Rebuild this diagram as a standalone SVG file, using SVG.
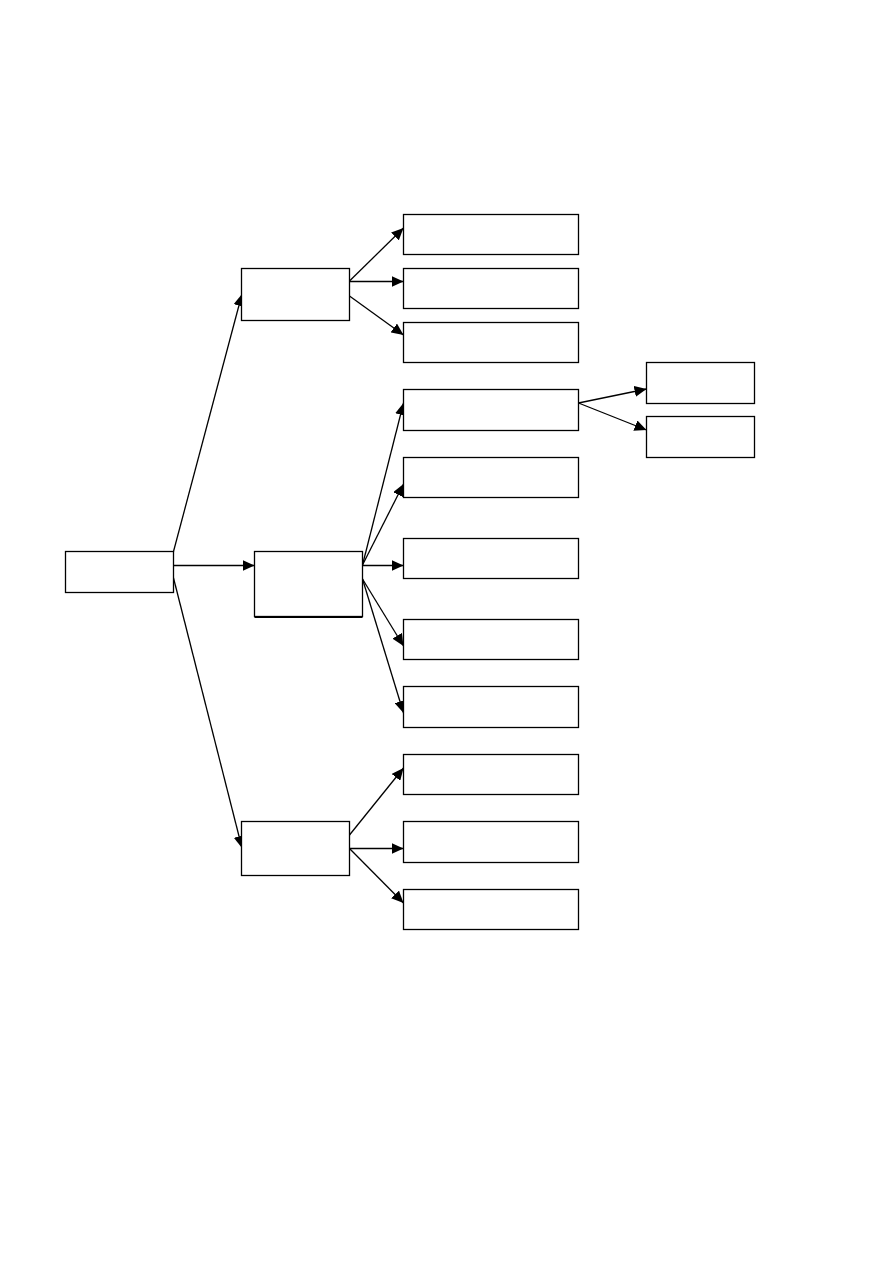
<svg xmlns="http://www.w3.org/2000/svg" width="893" height="1263" viewBox="0 0 893 1263">
<style>
.box{fill:#fff;stroke:#000;stroke-width:1.3}
.edge{fill:none;stroke:#000;stroke-width:1.3}
</style>
<defs>
<marker id="ah" viewBox="0 0 12 11" refX="12" refY="5.5" markerWidth="12" markerHeight="11" markerUnits="userSpaceOnUse" orient="auto">
<path d="M0,0 L12,5.5 L0,11 Z" fill="#000"/>
</marker>
</defs>
<rect width="893" height="1263" fill="#fff"/>
<g id="connectors">
<line class="edge" x1="173.5" y1="551.5" x2="242" y2="294" marker-end="url(#ah)"/>
<line class="edge" x1="173.5" y1="565.5" x2="254.5" y2="565.5" marker-end="url(#ah)"/>
<line class="edge" x1="173.5" y1="578" x2="242" y2="848" marker-end="url(#ah)"/>
<line class="edge" x1="349.5" y1="281" x2="403.5" y2="228" marker-end="url(#ah)"/>
<line class="edge" x1="349.5" y1="281.5" x2="403.5" y2="281.5" marker-end="url(#ah)"/>
<line class="edge" x1="349.5" y1="296" x2="403.5" y2="335" marker-end="url(#ah)"/>
<line class="edge" x1="362.5" y1="565" x2="403.5" y2="403" marker-end="url(#ah)"/>
<line class="edge" x1="362.5" y1="565" x2="403.5" y2="484" marker-end="url(#ah)"/>
<line class="edge" x1="362.5" y1="565.5" x2="403.5" y2="565.5" marker-end="url(#ah)"/>
<line class="edge" x1="362.5" y1="579" x2="403.5" y2="646" marker-end="url(#ah)"/>
<line class="edge" x1="362.5" y1="579" x2="403.5" y2="713" marker-end="url(#ah)"/>
<line class="edge" x1="578.5" y1="403" x2="646.5" y2="389" marker-end="url(#ah)"/>
<line class="edge" x1="578.5" y1="403" x2="646.5" y2="430" marker-end="url(#ah)"/>
<line class="edge" x1="349.5" y1="835" x2="403.5" y2="768" marker-end="url(#ah)"/>
<line class="edge" x1="349.5" y1="848.5" x2="403.5" y2="848.5" marker-end="url(#ah)"/>
<line class="edge" x1="349.5" y1="848.5" x2="403.5" y2="903" marker-end="url(#ah)"/>
</g>
<g id="root"><rect class="box" x="65.5" y="551.5" width="108" height="41"/></g>
<g id="nodeA"><rect class="box" x="241.5" y="268.5" width="108" height="52"/></g>
<g id="nodeB"><rect class="box" x="254.5" y="551.5" width="108" height="65"/><line x1="254.5" y1="617" x2="362.5" y2="617" stroke="#000" stroke-width="2"/></g>
<g id="nodeC"><rect class="box" x="241.5" y="821.5" width="108" height="54"/></g>
<g id="a1"><rect class="box" x="403.5" y="214.5" width="175" height="40"/></g>
<g id="a2"><rect class="box" x="403.5" y="268.5" width="175" height="40"/></g>
<g id="a3"><rect class="box" x="403.5" y="322.5" width="175" height="40"/></g>
<g id="b1"><rect class="box" x="403.5" y="389.5" width="175" height="41"/></g>
<g id="b2"><rect class="box" x="403.5" y="457.5" width="175" height="40"/></g>
<g id="b3"><rect class="box" x="403.5" y="538.5" width="175" height="40"/></g>
<g id="b4"><rect class="box" x="403.5" y="619.5" width="175" height="40"/></g>
<g id="b5"><rect class="box" x="403.5" y="686.5" width="175" height="41"/></g>
<g id="b1a"><rect class="box" x="646.5" y="362.5" width="108" height="41"/></g>
<g id="b1b"><rect class="box" x="646.5" y="416.5" width="108" height="41"/></g>
<g id="c1"><rect class="box" x="403.5" y="754.5" width="175" height="40"/></g>
<g id="c2"><rect class="box" x="403.5" y="821.5" width="175" height="41"/></g>
<g id="c3"><rect class="box" x="403.5" y="889.5" width="175" height="40"/></g>
</svg>
